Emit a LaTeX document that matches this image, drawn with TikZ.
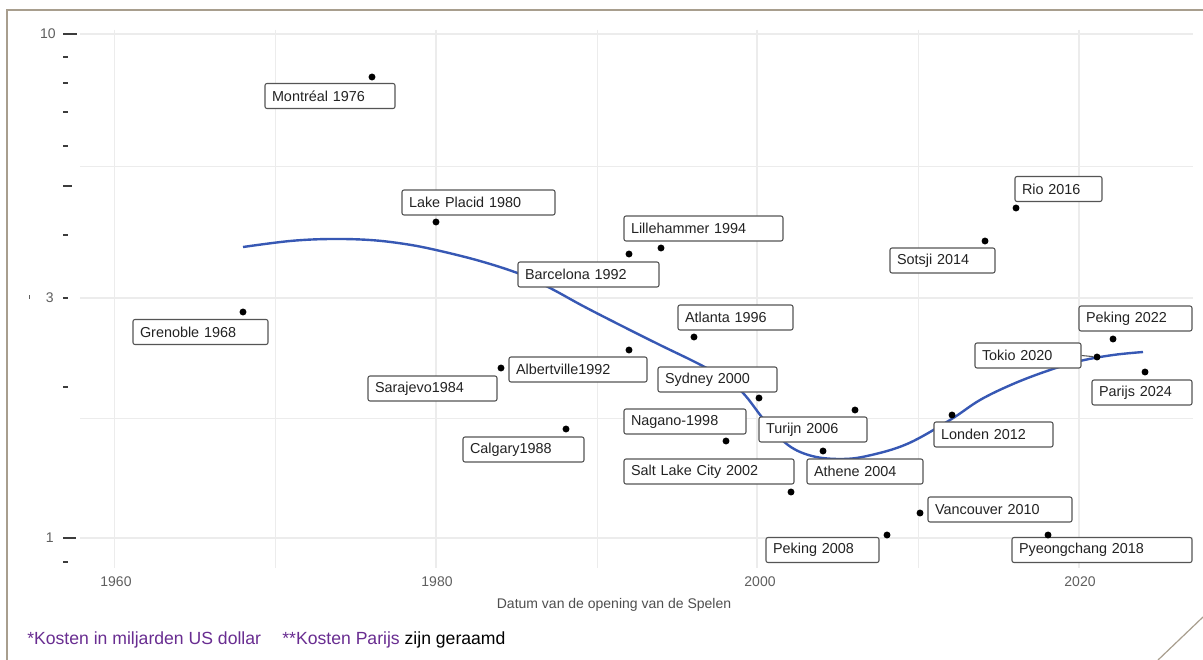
\documentclass[tikz,border=0pt]{standalone}
\usepackage{fontspec}
\setmainfont{Liberation Sans}
\definecolor{framec}{RGB}{168,158,142}
\definecolor{gridc}{RGB}{236,236,236}
\definecolor{tickc}{RGB}{60,60,60}
\definecolor{axc}{RGB}{95,95,95}
\definecolor{boxc}{RGB}{85,85,85}
\definecolor{txtc}{RGB}{35,35,35}
\definecolor{curvec}{RGB}{55,88,180}
\definecolor{purp}{RGB}{105,45,145}
\newcommand\lbl[5]{\pgfmathsetmacro\tw{(#4-14)*0.75}\node[lab,text width=\tw pt] (#1) at (#2,#3) {#5};}
\begin{document}
\begin{tikzpicture}[x=0.75pt,y=-0.75pt,
  lab/.style={draw=boxc, line width=0.8pt, rounded corners=1.5pt, fill=white, text=txtc,
    font=\fontsize{10.8}{12}\selectfont, align=left, inner xsep=5.25pt, inner ysep=0pt, minimum height=18.75pt},
  dot/.style={circle, fill=black, inner sep=0pt, minimum size=5.2pt},
  majgrid/.style={draw=gridc, line width=1pt},
  mingrid/.style={draw=gridc, line width=0.6pt},
  tk/.style={draw=tickc, line width=1.9pt},
  axt/.style={text=axc, font=\fontsize{10.5}{12}\selectfont, inner sep=0pt},
  smoothline/.style={draw=curvec, line width=1.8pt},
  conn/.style={draw=boxc, line width=0.8pt},
  framel/.style={draw=framec, line width=1.4pt}]
\useasboundingbox (0,0) rectangle (1203,660);
\fill[white] (0,0) rectangle (1203,660);
% frame
\draw[framel] (7,660) -- (7,10) -- (1203,10);
\draw[framel, line width=0.9pt] (1158,660) -- (1203,617);
% grid
\foreach \yy in {34,298,538} \draw[majgrid] (80,\yy) -- (1193,\yy);
\foreach \yy in {166,418} \draw[mingrid] (80,\yy) -- (1193,\yy);
\foreach \xx in {114.5,436,757,1079} \draw[majgrid] (\xx,30) -- (\xx,568);
\foreach \xx in {275,597,918} \draw[mingrid] (\xx,30) -- (\xx,568);
% log ticks
\draw[tk] (63,34) -- (77,34);
\draw[tk] (63,538) -- (76,538);
\draw[tk] (63,186) -- (72,186);
\foreach \yy in {57,83,112,146,235,298,387,562} \draw[tk] (63,\yy) -- (68,\yy);
% axis labels
\node[axt, anchor=east] (y10) at (56,34) {10};
\node[axt, anchor=east] (y3) at (54,298) {3};
\node[axt, anchor=east] (y1) at (54,538) {1};
\draw[axc, line width=0.7pt] (29,295) -- (29,299);
\node[axt] (x1960) at (116,582) {1960};
\node[axt] (x1980) at (437,582) {1980};
\node[axt] (x2000) at (760,582) {2000};
\node[axt] (x2020) at (1080,582) {2020};
\node[axt, text=txtc!80] (xtitle) at (614,605) {Datum van de opening van de Spelen};
% smooth curve
\draw[smoothline] plot[smooth, tension=0.6] coordinates {(243,247) (290,241) (330,239) (370,240) (405,244) (436,250) (480,261) (520,274) (550,288) (583,306) (620,325) (660,345) (697,363) (722,377) (743,393) (765,421) (788,445) (812,456) (840,459) (867,456) (907,444) (950,420) (980,400) (1013,384) (1047,371) (1080,361) (1113,355) (1143,352)};
% labels
\lbl{grenoble}{200.5}{332}{135}{Grenoble 1968}
\lbl{montreal}{330}{96}{130}{Montréal 1976}
\lbl{lakeplacid}{478.5}{202.5}{153}{Lake Placid 1980}
\lbl{sarajevo}{432.5}{388.5}{129}{Sarajevo1984}
\lbl{calgary}{523.5}{449.5}{121}{Calgary1988}
\lbl{albertville}{578}{369.5}{138}{Albertville1992}
\lbl{barcelona}{588.5}{274.5}{141}{Barcelona 1992}
\lbl{lillehammer}{703.5}{228.5}{159}{Lillehammer 1994}
\lbl{atlanta}{735.5}{317.5}{115}{Atlanta 1996}
\lbl{sydney}{717.5}{379.5}{119}{Sydney 2000}
\lbl{nagano}{685}{421.5}{122}{Nagano-1998}
\lbl{turijn}{813}{429.5}{108}{Turijn 2006}
\lbl{athene}{865}{471.5}{116}{Athene 2004}
\lbl{saltlake}{709}{471.5}{170}{Salt Lake City 2002}
\lbl{vancouver}{1000}{509.5}{144}{Vancouver 2010}
\lbl{peking08}{822.5}{550}{113}{Peking 2008}
\lbl{pyeong}{1102}{550}{180}{Pyeongchang 2018}
\lbl{londen}{993.5}{434.5}{119}{Londen 2012}
\lbl{sotsji}{942.5}{260.5}{105}{Sotsji 2014}
\lbl{rio}{1058.5}{189}{87}{Rio 2016}
\lbl{tokio}{1028}{355.5}{106}{Tokio 2020}
\lbl{peking22}{1135.5}{318.5}{113}{Peking 2022}
\lbl{parijs}{1142}{392.5}{100}{Parijs 2024}
% dots
\node[dot] (dgrenoble) at (243,312) {};
\node[dot] (dmontreal) at (372,77) {};
\node[dot] (dlakeplacid) at (436,222) {};
\node[dot] (dsarajevo) at (501,368) {};
\node[dot] (dcalgary) at (566,429) {};
\node[dot] (dalbertville) at (629,350) {};
\node[dot] (dbarcelona) at (629,254) {};
\node[dot] (dlillehammer) at (661,248) {};
\node[dot] (datlanta) at (694,337) {};
\node[dot] (dsydney) at (759,398) {};
\node[dot] (dnagano) at (726,441) {};
\node[dot] (dturijn) at (855,410) {};
\node[dot] (dathene) at (823,451) {};
\node[dot] (dsaltlake) at (791,492) {};
\node[dot] (dvancouver) at (920,513) {};
\node[dot] (dpeking08) at (887,535) {};
\node[dot] (dpyeong) at (1048,535) {};
\node[dot] (dlonden) at (952,415) {};
\node[dot] (dsotsji) at (985,241) {};
\node[dot] (drio) at (1016,208) {};
\node[dot] (dtokio) at (1097,357) {};
\node[dot] (dpeking22) at (1113,339) {};
\node[dot] (dparijs) at (1145,372) {};
\draw[conn] (tokio.east) -- (dtokio);
% footnote
\node[anchor=west, inner sep=0pt, font=\fontsize{13.2}{15}\selectfont] (foot) at (27,640)
  {\textcolor{purp}{*Kosten in miljarden US dollar}\hspace{16pt}\textcolor{purp}{**Kosten Parijs} zijn geraamd};
\end{tikzpicture}
\end{document}
